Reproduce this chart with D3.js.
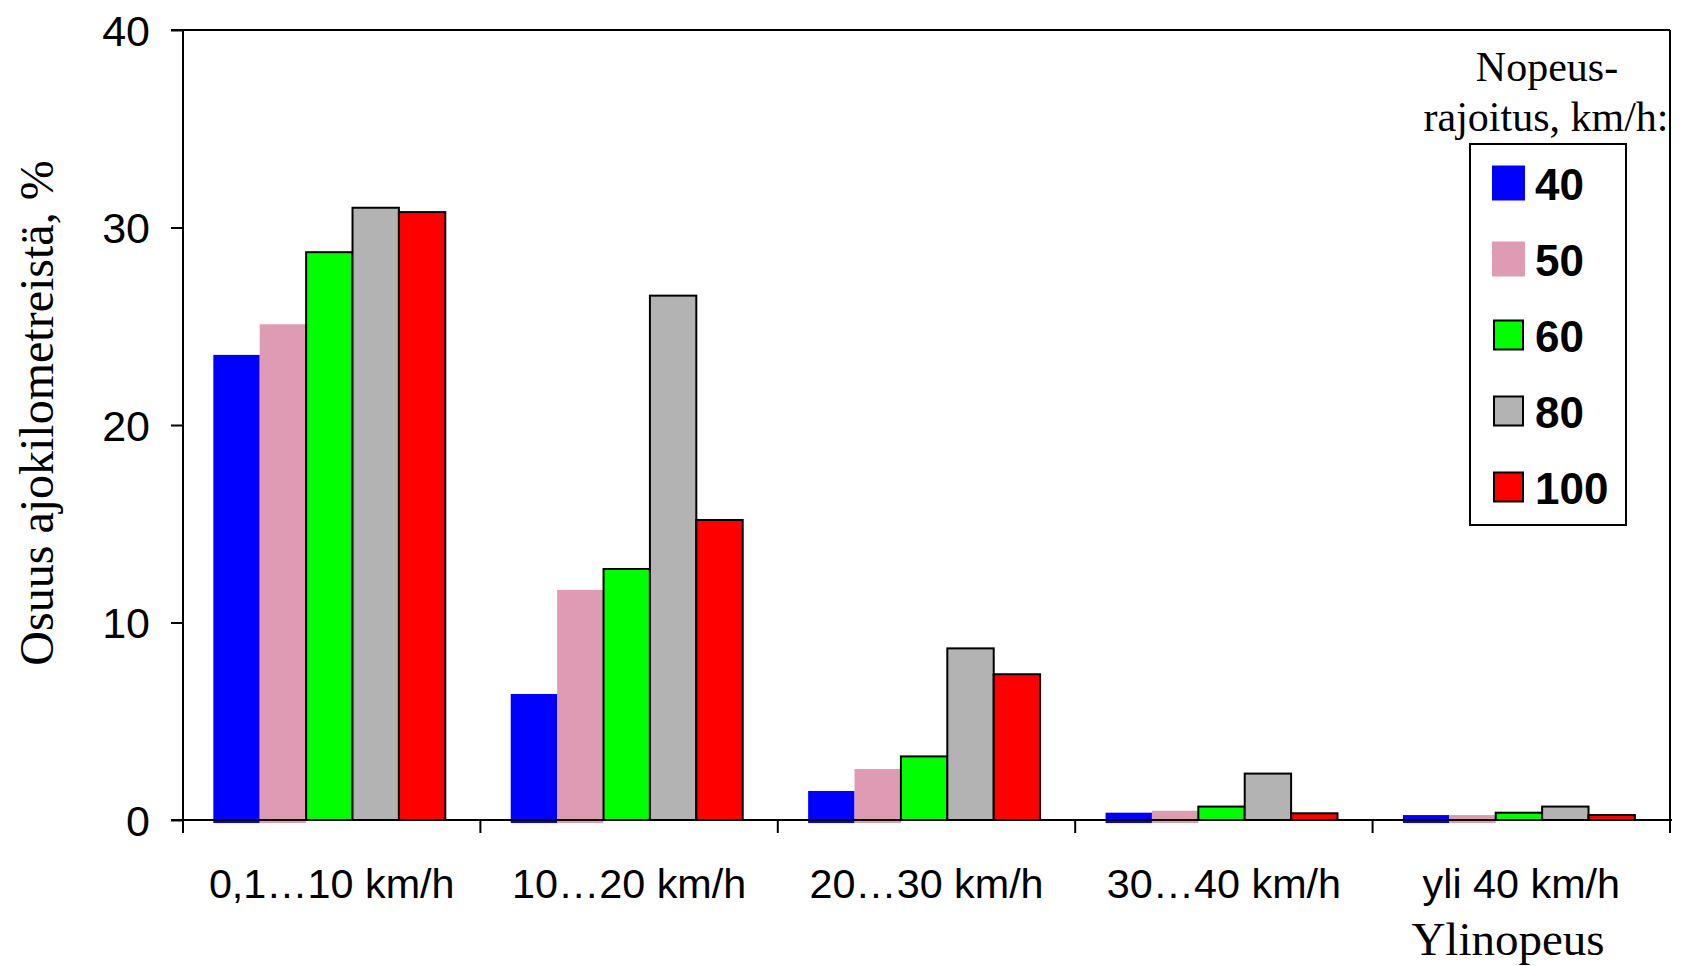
<!DOCTYPE html>
<html><head><meta charset="utf-8">
<script src="https://cdn.jsdelivr.net/npm/d3@7"></script>
<style>body{margin:0;background:#fff}svg{display:block}</style>
</head><body><svg id="c" width="1682" height="966"></svg>
<script>
const categories = ["0,1…10 km/h", "10…20 km/h", "20…30 km/h", "30…40 km/h", "yli 40 km/h"];
const seriesNames = ["40", "50", "60", "80", "100"];
const s40  = [23.55, 6.38, 1.47, 0.37, 0.25];
const s50  = [25.1, 11.65, 2.58, 0.47, 0.25];
const s60  = [28.75, 12.71, 3.22, 0.68, 0.37];
const s80  = [31.0, 26.55, 8.69, 2.35, 0.68];
const s100 = [30.78, 15.19, 7.38, 0.34, 0.25];
const seriesValues = [s40, s50, s60, s80, s100];
const yTicks = [0, 10, 20, 30, 40];
const colors = ["#0000ff", "#de9bb3", "#00ff00", "#b3b3b3", "#ff0000"];
const outlined = [false, false, true, true, true];
const yTitle = "Osuus ajokilometreistä, %";
const xSubTitle = "Ylinopeus";
const legendTitle = ["Nopeus-", "rajoitus, km/h:"];

const svg = d3.select("#c");
const L = 183, R = 1670, T = 30, B = 820;
const SANS = "'Liberation Sans', Arial, sans-serif";
const SERIF = "'Liberation Serif', 'Times New Roman', serif";

const y = d3.scaleLinear().domain([0, 40]).range([B, T]);
const x = d3.scaleBand().domain(categories).range([L, R]).padding(0);
const bw = x.bandwidth();
const xs = d3.scaleBand().domain(seriesNames).range([bw * 0.102, bw * 0.882]).padding(0);

// bars
const g = svg.append("g");
categories.forEach((c, ci) => {
  seriesNames.forEach((s, si) => {
    const v = seriesValues[si][ci];
    const x0 = x(c) + xs(s);
    if (outlined[si]) {
      g.append("rect")
        .attr("x", x0).attr("y", y(v))
        .attr("width", xs.bandwidth()).attr("height", B - y(v))
        .attr("fill", colors[si]).attr("stroke", "#000").attr("stroke-width", 2);
    } else {
      g.append("rect")
        .attr("x", x0).attr("y", y(v))
        .attr("width", xs.bandwidth()).attr("height", B - y(v) + 3)
        .attr("fill", colors[si]);
    }
  });
});

// frame / axes
const ax = svg.append("g").attr("stroke", "#000").attr("stroke-width", 2).attr("fill", "none");
ax.append("line").attr("x1", L).attr("x2", L).attr("y1", T).attr("y2", B + 13);
ax.append("line").attr("x1", R).attr("x2", R).attr("y1", T).attr("y2", B + 13);
ax.append("line").attr("x1", L - 12).attr("x2", R).attr("y1", T).attr("y2", T);
ax.append("line").attr("x1", L - 12).attr("x2", R + 2).attr("y1", B).attr("y2", B);

// y axis ticks + labels
const yAxis = d3.axisLeft(y).tickValues(yTicks).tickSize(12).tickSizeOuter(0).tickPadding(21).tickFormat(d3.format("d"));
const ya = svg.append("g").attr("transform", `translate(${L},0)`).call(yAxis);
ya.select(".domain").remove();
ya.selectAll(".tick line").attr("stroke", "#000").attr("stroke-width", 2);
ya.selectAll(".tick text").attr("font-family", SANS).attr("font-size", 43).attr("fill", "#000").attr("dy", "0.35em");

// x boundary ticks
const bounds = categories.map(c => x(c)).concat([R]);
ax.selectAll(".xb").data(bounds).join("line")
  .attr("x1", d => d).attr("x2", d => d).attr("y1", B).attr("y2", B + 13);

// x labels
const xAxis = d3.axisBottom(x).tickSize(0).tickPadding(0);
const xa = svg.append("g").attr("transform", `translate(0,${B})`).call(xAxis);
xa.select(".domain").remove();
xa.selectAll(".tick text").attr("font-family", SANS).attr("font-size", 41.3).attr("fill", "#000")
  .attr("y", 78).attr("dy", 0);

svg.append("text").attr("x", 1508).attr("y", 955).attr("text-anchor", "middle")
  .attr("font-family", SERIF).attr("font-size", 47).text(xSubTitle);

// y title
svg.append("text").attr("transform", "translate(53,413) rotate(-90)").attr("text-anchor", "middle")
  .attr("font-family", SERIF).attr("font-size", 48).text(yTitle);

// legend
svg.append("text").attr("x", 1547).attr("y", 81).attr("text-anchor", "middle")
  .attr("font-family", SERIF).attr("font-size", 42).text(legendTitle[0]);
svg.append("text").attr("x", 1546).attr("y", 131).attr("text-anchor", "middle")
  .attr("font-family", SERIF).attr("font-size", 42).text(legendTitle[1]);
svg.append("rect").attr("x", 1470).attr("y", 144).attr("width", 156).attr("height", 381)
  .attr("fill", "#fff").attr("stroke", "#000").attr("stroke-width", 2);
const ly = d3.scalePoint().domain(seriesNames).range([183, 487]);
seriesNames.forEach((s, si) => {
  const cy = ly(s);
  if (outlined[si]) {
    svg.append("rect").attr("x", 1494).attr("y", cy - 14.5).attr("width", 29).attr("height", 29)
      .attr("fill", colors[si]).attr("stroke", "#000").attr("stroke-width", 2);
  } else {
    svg.append("rect").attr("x", 1492).attr("y", cy - 17.5).attr("width", 33).attr("height", 35)
      .attr("fill", colors[si]);
  }
  svg.append("text").attr("x", 1535).attr("y", cy + 17).attr("font-family", SANS)
    .attr("font-weight", "bold").attr("font-size", 44).text(s);
});
</script></body></html>
